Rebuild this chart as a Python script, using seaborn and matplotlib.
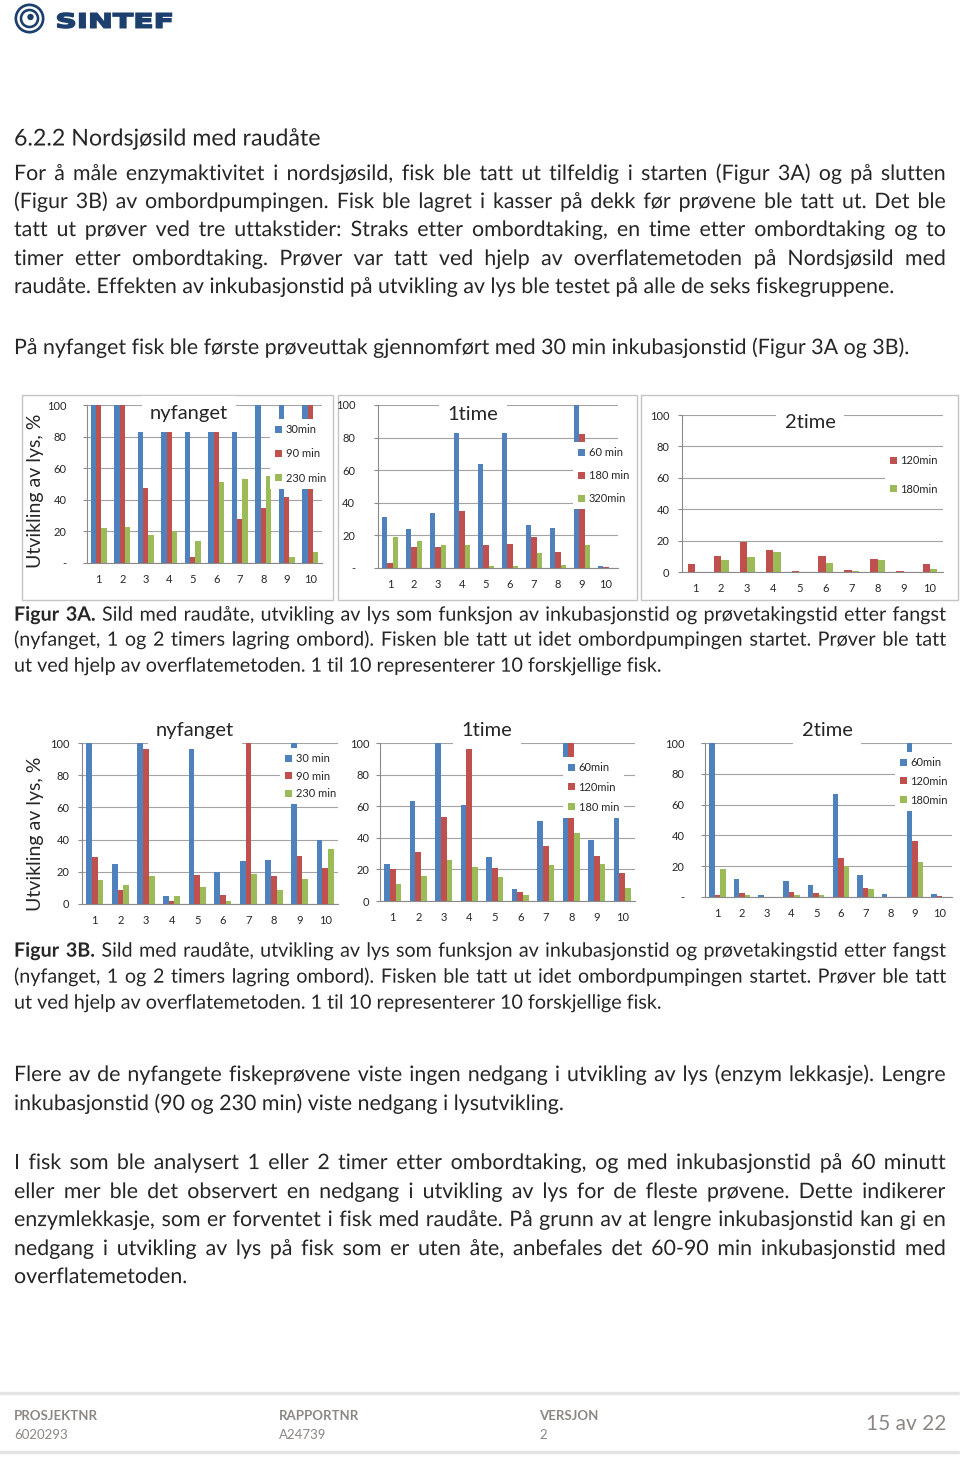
import numpy as np
import pandas as pd
import matplotlib
matplotlib.use("Agg")
import matplotlib.pyplot as plt
import matplotlib.patheffects as pe
import seaborn as sns
from matplotlib.patches import Rectangle, Circle, PathPatch
from matplotlib.textpath import TextPath
from matplotlib.font_manager import FontProperties
from matplotlib.transforms import Affine2D

sns.set_style("white")
plt.rcParams["font.family"] = ["Lato", "DejaVu Sans"]

W, H = 960, 1458

# ---- chart data ----
fisk = [str(i) for i in range(1, 11)]

# Figur 3A
a_ny_tid = ["30min", "90 min", "230 min"]
a_ny_30 = [100, 100, 83, 83, 83, 83, 83, 100, 100, 100]
a_ny_90 = [100, 100, 47.5, 83, 3.5, 83, 28, 35, 41.5, 100]
a_ny_230 = [22, 23, 18, 20, 14, 51, 53, 55, 4, 7]

a_1t_tid = ["60 min", "180 min", "320min"]
a_1t_60 = [31, 24, 34, 83, 63.5, 83, 26.5, 24.5, 100, 1]
a_1t_180 = [3, 13, 13, 35, 14, 15, 19, 10, 82, 0.5]
a_1t_320 = [19, 16.5, 14, 14, 1.5, 1, 9.5, 2, 14, 0.3]

a_2t_tid = ["120min", "180min"]
a_2t_120 = [5, 10.5, 19, 14, 0.5, 10, 1, 8, 0.5, 5]
a_2t_180 = [0.3, 7.5, 9.5, 12.5, 0.3, 6, 0.5, 7.5, 0.3, 2]

# Figur 3B
b_ny_tid = ["30 min", "90 min", "230 min"]
b_ny_30 = [100, 25, 100, 5, 96, 20, 26.5, 27.5, 100, 40]
b_ny_90 = [29, 8.5, 96, 2, 18, 5.5, 100, 17.5, 30, 22.5]
b_ny_230 = [15, 12, 17.5, 5, 10.5, 2, 18.5, 9, 15.5, 34]

b_1t_tid = ["60min", "120min", "180 min"]
b_1t_60 = [23.5, 63.5, 100, 60.5, 28, 7.5, 50.5, 100, 38.5, 53.5]
b_1t_120 = [20, 31, 53, 96, 21, 6, 34.5, 100, 28.5, 18]
b_1t_180 = [10.5, 16, 26, 21.5, 15.5, 3.5, 22.5, 43, 23.5, 8]

b_2t_tid = ["60min", "120min", "180min"]
b_2t_60 = [100, 11.5, 1, 10.5, 7.5, 67, 14.5, 2, 100, 2]
b_2t_120 = [1.5, 2.5, 0, 3.5, 2.5, 25.5, 6, 0, 36.5, 0.5]
b_2t_180 = [18.5, 1.5, 0, 1.5, 1.5, 20, 5, 0, 22.5, 0]

ytl_dash = ["-", "20", "40", "60", "80", "100"]
ytl_zero = ["0", "20", "40", "60", "80", "100"]

blue, red, green = "#4F81BD", "#C0504D", "#9BBB59"

# ---- page text ----
heading = "6.2.2 Nordsjøsild med raudåte"
para1 = [
    "For å måle enzymaktivitet i nordsjøsild, fisk ble tatt ut tilfeldig i starten (Figur 3A) og på slutten",
    "(Figur 3B) av ombordpumpingen. Fisk ble lagret i kasser på dekk før prøvene ble tatt ut. Det ble",
    "tatt ut prøver ved tre uttakstider: Straks etter ombordtaking, en time etter ombordtaking og to",
    "timer etter ombordtaking. Prøver var tatt ved hjelp av overflatemetoden på Nordsjøsild med",
    "raudåte. Effekten av inkubasjonstid på utvikling av lys ble testet på alle de seks fiskegruppene.",
]
para2 = ["På nyfanget fisk ble første prøveuttak gjennomført med 30 min inkubasjonstid (Figur 3A og 3B)."]
cap_lines = [
    "Sild med raudåte, utvikling av lys som funksjon av inkubasjonstid og prøvetakingstid etter fangst",
    "(nyfanget, 1 og 2 timers lagring ombord). Fisken ble tatt ut idet ombordpumpingen startet. Prøver ble tatt",
    "ut ved hjelp av overflatemetoden. 1 til 10 representerer 10 forskjellige fisk.",
]
para3 = [
    "Flere av de nyfangete fiskeprøvene viste ingen nedgang i utvikling av lys (enzym lekkasje). Lengre",
    "inkubasjonstid (90 og 230 min) viste nedgang i lysutvikling.",
]
para4 = [
    "I fisk som ble analysert 1 eller 2 timer etter ombordtaking, og med inkubasjonstid på 60 minutt",
    "eller mer ble det observert en nedgang i utvikling av lys for de fleste prøvene. Dette indikerer",
    "enzymlekkasje, som er forventet i fisk med raudåte. På grunn av at lengre inkubasjonstid kan gi en",
    "nedgang i utvikling av lys på fisk som er uten åte, anbefales det 60-90 min inkubasjonstid med",
    "overflatemetoden.",
]

fig = plt.figure(figsize=(W / 100, H / 100), dpi=100)
bg = fig.add_axes([0, 0, 1, 1], zorder=-1)
bg.set_xlim(0, W)
bg.set_ylim(H, 0)
bg.axis("off")
renderer = fig.canvas.get_renderer()

BODY = 15.4
CAPTION = 14.2
X0, X1 = 14, 946
# drawing text through a path effect keeps every word on the exact same baseline
AS_PATH = [pe.Normal()]


def text_line(y, line, justify, first_bold=None, size=BODY):
    # y is the visual middle of the line; words sit on a common baseline
    yb = y + size * 0.33
    kw = dict(fontsize=size, va="baseline", path_effects=AS_PATH)
    words = [(w, "normal") for w in line.split()]
    if first_bold:
        words = [(w, "bold") for w in first_bold.split()] + words
    if not justify:
        x = X0
        if first_bold:
            t = bg.text(x, yb, first_bold + " ", fontweight="bold", **kw)
            x += t.get_window_extent(renderer).width
        bg.text(x, yb, line, **kw)
        return
    arts = [bg.text(X0, yb, w, fontweight=wt, **kw) for w, wt in words]
    widths = [a.get_window_extent(renderer).width for a in arts]
    gap = (X1 - X0 - sum(widths)) / (len(arts) - 1)
    x = X0
    for a, w in zip(arts, widths):
        a.set_x(x)
        x += w + gap


# logo
navy = "#1c3f6e"
bg.add_patch(Circle((29.5, 18.5), 15, fc=navy, ec="none"))
bg.add_patch(Circle((29.5, 18.5), 12.3, fc="white", ec="none"))
bg.add_patch(Circle((29.5, 18.5), 9.8, fc=navy, ec="none"))
bg.add_patch(Circle((29.5, 18.5), 7.2, fc="white", ec="none"))
bg.add_patch(Circle((30.5, 17), 3.2, fc=navy, ec="none"))
tp = TextPath((0, 0), "SINTEF", size=10, prop=FontProperties(family="DejaVu Sans", weight="bold"))
ext = tp.get_extents()
tr = Affine2D().translate(-ext.x0, -ext.y0).scale(114 / ext.width, -15 / ext.height).translate(57.5, 28)
bg.add_patch(PathPatch(tr.transform_path(tp), fc=navy, ec=navy, lw=1.1))

bg.text(X0, 140 + 16.7 * 0.33, heading, fontsize=16.7, va="baseline", path_effects=AS_PATH)
for i, (y, line) in enumerate(zip([175, 203, 231, 260, 288], para1)):
    text_line(y, line, i < len(para1) - 1)
text_line(349, para2[0], False)
for label, ys in [("Figur 3A.", [616, 641, 667]), ("Figur 3B.", [952, 978, 1004])]:
    text_line(ys[0], cap_lines[0], True, first_bold=label, size=CAPTION)
    text_line(ys[1], cap_lines[1], True, size=CAPTION)
    text_line(ys[2], cap_lines[2], False, size=CAPTION)
for i, (y, line) in enumerate(zip([1076, 1105], para3)):
    text_line(y, line, i < len(para3) - 1)
for i, (y, line) in enumerate(zip([1164, 1193, 1221, 1250, 1278], para4)):
    text_line(y, line, i < len(para4) - 1)

# footer
fg = "#8c8782"
bg.plot([0, 958], [1393, 1393], color="#e4e4e4", lw=2.5)
bg.plot([0, 958], [1452, 1452], color="#e4e4e4", lw=2.5)
for x, head, val in [(14, "PROSJEKTNR", "6020293"), (279, "RAPPORTNR", "A24739"), (539, "VERSJON", "2")]:
    bg.text(x, 1416, head, fontsize=9.5, fontweight="bold", color=fg, va="center")
    bg.text(x, 1435, val, fontsize=9.5, color=fg, va="center")
bg.text(946, 1424, "15 av 22", fontsize=15, color=fg, va="center", ha="right")

# chart frames of figure 3A
for x0, x1 in [(22, 333), (338, 637), (641, 958)]:
    bg.add_patch(Rectangle((x0, 395), x1 - x0, 205, fill=False, ec="#c4c4c4", lw=1))


def panel(box, series, labels, colors, ytl, ypad, title, title_xy, leg_xy, leg_sp, width):
    left, top, right, bottom = box
    ax = fig.add_axes([left / W, 1 - bottom / H, (right - left) / W, (bottom - top) / H])
    df = pd.DataFrame({
        "fisk": np.tile(fisk, len(series)),
        "tid": np.repeat(labels, len(fisk)),
        "verdi": np.concatenate([np.asarray(s, float) for s in series]),
    })
    sns.barplot(data=df, x="fisk", y="verdi", hue="tid", hue_order=labels, palette=colors,
                width=width, saturation=1, linewidth=0, errorbar=None, ax=ax)
    ax.set_ylim(0, 100)
    ax.set_xlim(-0.5, 9.5)
    ax.set_yticks([0, 20, 40, 60, 80, 100])
    ax.set_yticklabels(ytl)
    ax.set_xlabel("")
    ax.set_ylabel("")
    ax.yaxis.grid(True, color="#a3a3a3", lw=0.8)
    ax.set_axisbelow(True)
    for s in ["top", "right"]:
        ax.spines[s].set_visible(False)
    for s in ["left", "bottom"]:
        ax.spines[s].set_color("#8a8a8a")
        ax.spines[s].set_linewidth(0.8)
    ax.set_xticks(np.arange(-0.5, 10, 1), minor=True)
    ax.tick_params(axis="x", which="major", length=0, labelsize=8, pad=8)
    ax.tick_params(axis="x", which="minor", length=3.5, color="#8a8a8a", direction="out")
    ax.tick_params(axis="y", length=3, color="#8a8a8a", labelsize=8, pad=ypad, left=True)
    handles, labs = ax.get_legend_handles_labels()
    ax.legend(handles, labs, loc="upper left",
              bbox_to_anchor=(leg_xy[0] / W, 1 - leg_xy[1] / H), bbox_transform=fig.transFigure,
              frameon=True, facecolor="white", edgecolor="none", framealpha=1, fancybox=False,
              fontsize=8, handlelength=0.6, handleheight=0.6, handletextpad=0.35,
              labelspacing=leg_sp, borderpad=0.45, borderaxespad=0)
    fig.text(title_xy[0] / W, 1 - title_xy[1] / H, title, fontsize=14.5, ha="center", va="center",
             bbox=dict(facecolor="white", edgecolor="none", pad=6))
    return ax


panel((87, 405, 322, 563), [a_ny_30, a_ny_90, a_ny_230], a_ny_tid, [blue, red, green], ytl_dash, 11.5,
      "nyfanget", (189, 413), (270, 419), 1.2, 0.67)
panel((378, 405, 618, 568), [a_1t_60, a_1t_180, a_1t_320], a_1t_tid, [blue, red, green], ytl_dash, 13.5,
      "1time", (473, 415), (573, 442), 1.1, 0.67)
panel((682, 415, 943, 572), [a_2t_120, a_2t_180], a_2t_tid, [red, green], ytl_zero, 6,
      "2time", (810, 423), (885, 450), 1.6, 0.57)
panel((82, 743, 338, 904), [b_ny_30, b_ny_90, b_ny_230], b_ny_tid, [blue, red, green], ytl_zero, 6,
      "nyfanget", (195, 731), (280, 748), 0.6, 0.67)
panel((380, 743, 635, 901), [b_1t_60, b_1t_120, b_1t_180], b_1t_tid, [blue, red, green], ytl_zero, 4.5,
      "1time", (487, 730), (563, 757), 0.8, 0.67)
panel((705, 743, 952, 897), [b_2t_60, b_2t_120, b_2t_180], b_2t_tid, [blue, red, green], ytl_dash, 11.5,
      "2time", (827, 730), (895, 752), 0.7, 0.67)

for y in [491, 834]:
    fig.text(36 / W, 1 - y / H, "Utvikling av lys, %", fontsize=14, rotation=90, ha="center", va="center")

fig.savefig("out.png", dpi=100)
